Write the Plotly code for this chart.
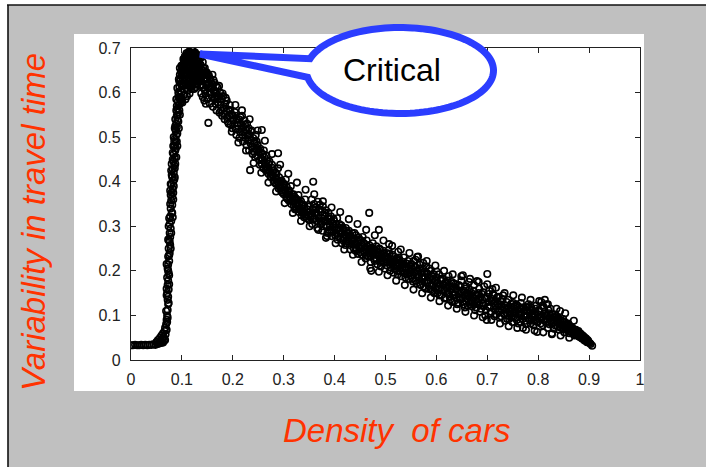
import numpy as np
import plotly.graph_objects as go

# ---------------------------------------------------------------------------
# Measurements: (density of cars, variability in travel time)
# ---------------------------------------------------------------------------
free_flow = [
    (0.000, 0.033), (0.004, 0.033), (0.008, 0.034), (0.012, 0.033), (0.016, 0.033),
    (0.020, 0.034), (0.024, 0.033), (0.028, 0.034), (0.032, 0.033), (0.036, 0.034),
    (0.040, 0.034), (0.044, 0.035), (0.048, 0.034), (0.052, 0.036), (0.055, 0.037),
    (0.058, 0.038), (0.061, 0.040), (0.063, 0.039), (0.065, 0.043), (0.067, 0.045),
    (0.050, 0.040), (0.053, 0.045), (0.055, 0.038), (0.057, 0.050), (0.059, 0.043),
    (0.060, 0.055), (0.062, 0.048), (0.063, 0.060), (0.064, 0.052), (0.066, 0.065),
    (0.067, 0.072), (0.068, 0.058), (0.069, 0.080), (0.070, 0.090), (0.070, 0.068),
    (0.071, 0.100), (0.071, 0.085), (0.072, 0.112), (0.072, 0.095), (0.073, 0.125),
]

rising = [
    (0.072, 0.135), (0.073, 0.142), (0.071, 0.150), (0.074, 0.158), (0.072, 0.168),
    (0.073, 0.178), (0.071, 0.185), (0.074, 0.195), (0.072, 0.205), (0.073, 0.214),
    (0.075, 0.222), (0.073, 0.232), (0.076, 0.240), (0.074, 0.250), (0.077, 0.258),
    (0.075, 0.268), (0.077, 0.276), (0.076, 0.285), (0.078, 0.295), (0.076, 0.305),
    (0.079, 0.312), (0.077, 0.322), (0.080, 0.330), (0.078, 0.340), (0.081, 0.348),
    (0.079, 0.358), (0.081, 0.366), (0.080, 0.376), (0.082, 0.384), (0.080, 0.394),
    (0.083, 0.402), (0.081, 0.410), (0.084, 0.420), (0.082, 0.428), (0.085, 0.436),
    (0.083, 0.446), (0.086, 0.454), (0.084, 0.462), (0.087, 0.470), (0.085, 0.480),
    (0.088, 0.488), (0.086, 0.496), (0.089, 0.504), (0.088, 0.514), (0.090, 0.522),
    (0.089, 0.530), (0.091, 0.538), (0.090, 0.548), (0.093, 0.556), (0.091, 0.564),
    (0.094, 0.572), (0.092, 0.580), (0.095, 0.588), (0.094, 0.596), (0.097, 0.604),
    (0.095, 0.612), (0.098, 0.620), (0.097, 0.630), (0.099, 0.638), (0.098, 0.648),
    (0.101, 0.656), (0.103, 0.664), (0.105, 0.672), (0.108, 0.678), (0.111, 0.684),
    (0.114, 0.686), (0.118, 0.690), (0.122, 0.688),
    (0.070, 0.160), (0.075, 0.190), (0.070, 0.215), (0.076, 0.265), (0.074, 0.300),
    (0.081, 0.330), (0.078, 0.370), (0.084, 0.390), (0.079, 0.425), (0.087, 0.440),
    (0.083, 0.480), (0.090, 0.490), (0.086, 0.520), (0.093, 0.535), (0.089, 0.560),
    (0.096, 0.575), (0.093, 0.600), (0.100, 0.615), (0.096, 0.640), (0.102, 0.650),
    (0.069, 0.110), (0.074, 0.128), (0.070, 0.145), (0.075, 0.170), (0.073, 0.200),
    (0.075, 0.235), (0.078, 0.250), (0.073, 0.270), (0.079, 0.285), (0.075, 0.318),
    (0.082, 0.320), (0.077, 0.350), (0.083, 0.360), (0.078, 0.395), (0.085, 0.405),
    (0.080, 0.440), (0.086, 0.430), (0.082, 0.465), (0.088, 0.475), (0.084, 0.500),
    (0.091, 0.508), (0.087, 0.540), (0.092, 0.550), (0.089, 0.585), (0.095, 0.560),
    (0.091, 0.610), (0.097, 0.590), (0.094, 0.630), (0.099, 0.660), (0.096, 0.655),
    (0.077, 0.380), (0.083, 0.375), (0.080, 0.415), (0.086, 0.410), (0.082, 0.450),
    (0.089, 0.455), (0.085, 0.490), (0.091, 0.480), (0.087, 0.525), (0.094, 0.520),
    (0.090, 0.570), (0.096, 0.550), (0.093, 0.590), (0.099, 0.580), (0.095, 0.625),
]

critical = [
    (0.100, 0.618), (0.102, 0.640), (0.104, 0.655), (0.105, 0.628), (0.106, 0.668),
    (0.108, 0.645), (0.109, 0.610), (0.110, 0.675), (0.111, 0.655), (0.112, 0.632),
    (0.113, 0.680), (0.114, 0.662), (0.115, 0.645), (0.116, 0.618), (0.117, 0.688),
    (0.118, 0.670), (0.119, 0.652), (0.120, 0.634), (0.121, 0.684), (0.122, 0.665),
    (0.123, 0.648), (0.124, 0.625), (0.125, 0.678), (0.126, 0.690), (0.127, 0.658),
    (0.128, 0.640), (0.129, 0.676), (0.130, 0.662), (0.132, 0.684), (0.134, 0.670),
    (0.112, 0.605), (0.115, 0.598), (0.124, 0.608), (0.127, 0.612), (0.130, 0.620),
    (0.133, 0.625), (0.136, 0.615), (0.105, 0.595), (0.107, 0.585), (0.110, 0.592),
    (0.099, 0.600), (0.097, 0.585), (0.101, 0.578),
    (0.100, 0.660), (0.103, 0.675), (0.104, 0.645), (0.106, 0.682), (0.107, 0.620),
    (0.108, 0.660), (0.109, 0.688), (0.111, 0.640), (0.112, 0.670), (0.113, 0.615),
    (0.114, 0.692), (0.116, 0.655), (0.117, 0.632), (0.118, 0.678), (0.119, 0.608),
    (0.120, 0.695), (0.122, 0.645), (0.123, 0.672), (0.124, 0.655), (0.126, 0.635),
    (0.127, 0.682), (0.128, 0.618), (0.129, 0.660), (0.131, 0.645), (0.132, 0.630),
    (0.133, 0.675), (0.135, 0.655), (0.136, 0.632), (0.137, 0.678), (0.139, 0.618),
    (0.140, 0.640), (0.142, 0.655), (0.143, 0.628), (0.145, 0.606), (0.147, 0.645),
    (0.149, 0.618), (0.151, 0.640), (0.153, 0.610), (0.155, 0.632), (0.157, 0.600),
    (0.159, 0.620), (0.162, 0.605), (0.164, 0.588), (0.167, 0.615), (0.170, 0.585),
    (0.138, 0.598), (0.141, 0.590), (0.144, 0.582), (0.147, 0.575), (0.121, 0.695),
    (0.101, 0.632), (0.103, 0.618), (0.104, 0.668), (0.106, 0.650), (0.107, 0.675),
    (0.108, 0.628), (0.110, 0.662), (0.111, 0.618), (0.112, 0.688), (0.113, 0.648),
    (0.114, 0.625), (0.115, 0.672), (0.116, 0.690), (0.117, 0.612), (0.118, 0.640),
    (0.119, 0.682), (0.120, 0.660), (0.121, 0.620), (0.122, 0.676), (0.123, 0.632),
    (0.124, 0.690), (0.125, 0.652), (0.126, 0.668), (0.127, 0.628), (0.128, 0.684),
    (0.129, 0.645), (0.130, 0.672), (0.131, 0.655), (0.133, 0.640), (0.134, 0.658),
    (0.136, 0.648), (0.137, 0.662), (0.139, 0.635), (0.141, 0.650), (0.143, 0.640),
    (0.145, 0.630), (0.148, 0.615), (0.150, 0.630), (0.153, 0.622), (0.156, 0.612),
]

congested = [
    (0.128, 0.660), (0.131, 0.672), (0.133, 0.655), (0.135, 0.640), (0.136, 0.662),
    (0.138, 0.628), (0.139, 0.650), (0.141, 0.668), (0.142, 0.612), (0.144, 0.640),
    (0.145, 0.655), (0.146, 0.598), (0.148, 0.630), (0.149, 0.645), (0.150, 0.585),
    (0.151, 0.620), (0.153, 0.638), (0.154, 0.600), (0.155, 0.575), (0.156, 0.628),
    (0.158, 0.612), (0.159, 0.590), (0.160, 0.640), (0.161, 0.568), (0.163, 0.605),
    (0.164, 0.622), (0.165, 0.585), (0.167, 0.598), (0.168, 0.560), (0.170, 0.612),
    (0.171, 0.578), (0.172, 0.592), (0.174, 0.555), (0.175, 0.600), (0.176, 0.572),
    (0.178, 0.585), (0.179, 0.548), (0.181, 0.592), (0.182, 0.565), (0.184, 0.540),
    (0.185, 0.575), (0.187, 0.558), (0.188, 0.582), (0.190, 0.535), (0.191, 0.562),
    (0.193, 0.548), (0.194, 0.572), (0.196, 0.528), (0.197, 0.552), (0.199, 0.520),
    (0.200, 0.548), (0.152, 0.532), (0.203, 0.530), (0.205, 0.548), (0.206, 0.518),
    (0.208, 0.540), (0.210, 0.525),
    (0.212, 0.540), (0.214, 0.512), (0.216, 0.530), (0.218, 0.548), (0.219, 0.505),
    (0.221, 0.522), (0.223, 0.538), (0.225, 0.498), (0.226, 0.515), (0.228, 0.530),
    (0.230, 0.492), (0.231, 0.520), (0.233, 0.505), (0.235, 0.486), (0.236, 0.512),
    (0.238, 0.478), (0.240, 0.498), (0.241, 0.468), (0.243, 0.490), (0.245, 0.505),
    (0.246, 0.472), (0.248, 0.458), (0.249, 0.482), (0.251, 0.466), (0.252, 0.448),
    (0.254, 0.474), (0.256, 0.452), (0.257, 0.440), (0.259, 0.462), (0.260, 0.430),
    (0.262, 0.455), (0.263, 0.442), (0.265, 0.425), (0.267, 0.448), (0.268, 0.432),
    (0.270, 0.418), (0.271, 0.440), (0.273, 0.422), (0.275, 0.410), (0.276, 0.432),
    (0.278, 0.415), (0.280, 0.402), (0.281, 0.425), (0.283, 0.408), (0.285, 0.395),
    (0.286, 0.418), (0.288, 0.400), (0.290, 0.385), (0.291, 0.410), (0.293, 0.392),
    (0.295, 0.380), (0.296, 0.402), (0.298, 0.388), (0.300, 0.372), (0.301, 0.395),
    (0.303, 0.378), (0.305, 0.365), (0.306, 0.388), (0.308, 0.372), (0.310, 0.358),
    (0.311, 0.380), (0.313, 0.364), (0.315, 0.350), (0.316, 0.372), (0.318, 0.358),
    (0.320, 0.345), (0.321, 0.366), (0.323, 0.350), (0.325, 0.338), (0.326, 0.360),
    (0.328, 0.345), (0.330, 0.332), (0.331, 0.352), (0.333, 0.338), (0.335, 0.325),
    (0.336, 0.348), (0.338, 0.334), (0.340, 0.320), (0.341, 0.340), (0.343, 0.326),
    (0.345, 0.318), (0.346, 0.338), (0.348, 0.325), (0.350, 0.314),
    (0.257, 0.516), (0.289, 0.464), (0.234, 0.426), (0.358, 0.400), (0.383, 0.274),
    (0.468, 0.330), (0.487, 0.292), (0.472, 0.200), (0.507, 0.260), (0.525, 0.243),
    (0.352, 0.345), (0.353, 0.322), (0.355, 0.360), (0.357, 0.338), (0.358, 0.315),
    (0.360, 0.350), (0.362, 0.330), (0.363, 0.342), (0.365, 0.312), (0.367, 0.355),
    (0.368, 0.325), (0.370, 0.338), (0.372, 0.305), (0.373, 0.332), (0.375, 0.318),
    (0.377, 0.345), (0.378, 0.300), (0.380, 0.325), (0.382, 0.312), (0.383, 0.336),
    (0.385, 0.298), (0.387, 0.318), (0.388, 0.330), (0.390, 0.292), (0.392, 0.310),
    (0.393, 0.322), (0.395, 0.288), (0.397, 0.306), (0.398, 0.316), (0.400, 0.296),
    (0.402, 0.285), (0.403, 0.305), (0.405, 0.318), (0.407, 0.278), (0.408, 0.298),
    (0.410, 0.290), (0.412, 0.272), (0.413, 0.302), (0.415, 0.285), (0.417, 0.268),
    (0.418, 0.292), (0.420, 0.280), (0.422, 0.296), (0.423, 0.262), (0.425, 0.285),
    (0.427, 0.274), (0.428, 0.290), (0.430, 0.258), (0.432, 0.278), (0.433, 0.268),
    (0.435, 0.284), (0.437, 0.252), (0.438, 0.272), (0.440, 0.262), (0.442, 0.280),
    (0.443, 0.248), (0.445, 0.266), (0.447, 0.275), (0.448, 0.255), (0.450, 0.242),
    (0.452, 0.268), (0.453, 0.258), (0.455, 0.276), (0.457, 0.245), (0.458, 0.262),
    (0.460, 0.252), (0.462, 0.235), (0.463, 0.268), (0.465, 0.250), (0.467, 0.240),
    (0.468, 0.258), (0.470, 0.232), (0.472, 0.252), (0.473, 0.244), (0.475, 0.262),
    (0.477, 0.228), (0.478, 0.246), (0.480, 0.238), (0.482, 0.255), (0.483, 0.225),
    (0.485, 0.242), (0.487, 0.232), (0.488, 0.250), (0.490, 0.220), (0.492, 0.238),
    (0.493, 0.228), (0.495, 0.245), (0.497, 0.218), (0.498, 0.234), (0.500, 0.225),
    (0.502, 0.240), (0.503, 0.212), (0.505, 0.230), (0.507, 0.222), (0.508, 0.238),
    (0.510, 0.208), (0.512, 0.226), (0.513, 0.216), (0.515, 0.232), (0.517, 0.205),
    (0.518, 0.222), (0.520, 0.212), (0.522, 0.228), (0.523, 0.200), (0.525, 0.218),
    (0.527, 0.210), (0.528, 0.224), (0.530, 0.198), (0.532, 0.214), (0.533, 0.206),
    (0.535, 0.220), (0.537, 0.195), (0.538, 0.210), (0.540, 0.202), (0.542, 0.216),
    (0.543, 0.192), (0.545, 0.206), (0.547, 0.198), (0.548, 0.212), (0.550, 0.190),
    (0.552, 0.205), (0.553, 0.182), (0.555, 0.222), (0.557, 0.195), (0.558, 0.210),
    (0.560, 0.178), (0.562, 0.231), (0.563, 0.200), (0.565, 0.188), (0.567, 0.214),
    (0.568, 0.170), (0.570, 0.196), (0.572, 0.205), (0.573, 0.182), (0.575, 0.165),
    (0.577, 0.198), (0.578, 0.186), (0.580, 0.210), (0.582, 0.172), (0.583, 0.192),
    (0.585, 0.160), (0.587, 0.185), (0.588, 0.200), (0.590, 0.168), (0.592, 0.180),
    (0.593, 0.155), (0.595, 0.192), (0.597, 0.175), (0.598, 0.162), (0.600, 0.185),
    (0.602, 0.150), (0.603, 0.172), (0.605, 0.192), (0.607, 0.160), (0.608, 0.178),
    (0.610, 0.145), (0.612, 0.168), (0.613, 0.182), (0.615, 0.155), (0.617, 0.172),
    (0.618, 0.140), (0.620, 0.162), (0.622, 0.178), (0.623, 0.148), (0.625, 0.166),
    (0.627, 0.135), (0.628, 0.158), (0.630, 0.175), (0.632, 0.145), (0.633, 0.160),
    (0.635, 0.132), (0.637, 0.152), (0.638, 0.170), (0.640, 0.140), (0.642, 0.156),
    (0.643, 0.128), (0.645, 0.148), (0.647, 0.165), (0.648, 0.136), (0.650, 0.152),
    (0.652, 0.190), (0.653, 0.125), (0.655, 0.145), (0.657, 0.160), (0.658, 0.132),
    (0.660, 0.150), (0.662, 0.122), (0.663, 0.142), (0.665, 0.158), (0.667, 0.130),
    (0.668, 0.146), (0.670, 0.120), (0.672, 0.140), (0.673, 0.155), (0.675, 0.128),
    (0.677, 0.145), (0.678, 0.118), (0.680, 0.177), (0.682, 0.136), (0.683, 0.150),
    (0.685, 0.125), (0.687, 0.142), (0.688, 0.115), (0.690, 0.135), (0.692, 0.152),
    (0.693, 0.122), (0.695, 0.140), (0.697, 0.112), (0.699, 0.090), (0.700, 0.193),
    (0.702, 0.130), (0.703, 0.148), (0.705, 0.118), (0.707, 0.138), (0.708, 0.108),
    (0.710, 0.159), (0.712, 0.128), (0.713, 0.145), (0.715, 0.112), (0.717, 0.132),
    (0.718, 0.102), (0.720, 0.126), (0.722, 0.142), (0.723, 0.108), (0.725, 0.125),
    (0.727, 0.098), (0.728, 0.120), (0.730, 0.136), (0.732, 0.104), (0.733, 0.118),
    (0.735, 0.088), (0.737, 0.114), (0.738, 0.130), (0.740, 0.100), (0.742, 0.115),
    (0.743, 0.092), (0.745, 0.110), (0.747, 0.126), (0.748, 0.096), (0.750, 0.112),
    (0.752, 0.120), (0.753, 0.098), (0.755, 0.108), (0.757, 0.125), (0.758, 0.090),
    (0.760, 0.112), (0.762, 0.102), (0.763, 0.118), (0.765, 0.085), (0.767, 0.105),
    (0.768, 0.115), (0.770, 0.072), (0.772, 0.098), (0.773, 0.110), (0.775, 0.088),
    (0.777, 0.118), (0.778, 0.100), (0.780, 0.119), (0.782, 0.092), (0.783, 0.106),
    (0.785, 0.082), (0.787, 0.100), (0.788, 0.112), (0.790, 0.088), (0.792, 0.104),
    (0.793, 0.096), (0.795, 0.115), (0.797, 0.086), (0.798, 0.063), (0.800, 0.102),
    (0.802, 0.092), (0.803, 0.110), (0.805, 0.082), (0.807, 0.098), (0.808, 0.122),
    (0.810, 0.090), (0.812, 0.104), (0.813, 0.135), (0.815, 0.085), (0.817, 0.100),
    (0.818, 0.092), (0.820, 0.112), (0.822, 0.080), (0.823, 0.096), (0.825, 0.088),
    (0.827, 0.060), (0.828, 0.102), (0.830, 0.084), (0.832, 0.095), (0.833, 0.078),
    (0.835, 0.098), (0.837, 0.088), (0.838, 0.075), (0.840, 0.092), (0.842, 0.082),
    (0.843, 0.110), (0.845, 0.072), (0.847, 0.088), (0.848, 0.080), (0.850, 0.070),
    (0.852, 0.085), (0.853, 0.078), (0.855, 0.068), (0.857, 0.080), (0.858, 0.074),
    (0.860, 0.065), (0.862, 0.076), (0.863, 0.070), (0.865, 0.062), (0.867, 0.072),
    (0.868, 0.066), (0.870, 0.058), (0.872, 0.068), (0.873, 0.062), (0.875, 0.056),
    (0.877, 0.064), (0.878, 0.058), (0.880, 0.053), (0.882, 0.060), (0.883, 0.055),
    (0.885, 0.050), (0.887, 0.055), (0.888, 0.050), (0.890, 0.046), (0.892, 0.050),
    (0.893, 0.045), (0.895, 0.042), (0.897, 0.045), (0.899, 0.040), (0.901, 0.038),
    (0.903, 0.036), (0.906, 0.032),
]

# second pass of congested readings, scattered across the band
congested_extra = [
    (0.162, 0.628), (0.166, 0.575), (0.169, 0.590), (0.173, 0.615), (0.177, 0.560),
    (0.180, 0.598), (0.183, 0.552), (0.186, 0.588), (0.189, 0.545), (0.192, 0.530),
    (0.195, 0.560), (0.198, 0.512), (0.201, 0.538), (0.204, 0.556), (0.207, 0.505),
    (0.209, 0.532), (0.213, 0.498), (0.215, 0.545), (0.217, 0.520), (0.220, 0.490),
    (0.222, 0.512), (0.224, 0.528), (0.227, 0.482), (0.229, 0.505), (0.232, 0.470),
    (0.234, 0.495), (0.237, 0.515), (0.239, 0.462), (0.242, 0.486), (0.244, 0.455),
    (0.247, 0.490), (0.250, 0.472), (0.253, 0.438), (0.255, 0.466), (0.258, 0.448),
    (0.261, 0.470), (0.264, 0.435), (0.266, 0.458), (0.269, 0.428), (0.272, 0.445),
    (0.274, 0.412), (0.277, 0.438), (0.279, 0.425), (0.282, 0.398), (0.284, 0.420),
    (0.287, 0.405), (0.289, 0.430), (0.292, 0.388), (0.294, 0.402), (0.297, 0.376),
    (0.299, 0.396), (0.302, 0.382), (0.304, 0.405), (0.307, 0.362), (0.309, 0.380),
    (0.312, 0.372), (0.314, 0.390), (0.317, 0.355), (0.319, 0.372), (0.322, 0.338),
    (0.324, 0.362), (0.327, 0.352), (0.329, 0.370), (0.332, 0.340), (0.334, 0.356),
    (0.337, 0.330), (0.339, 0.348), (0.342, 0.360), (0.344, 0.322), (0.347, 0.345),
    (0.349, 0.332), (0.354, 0.328), (0.356, 0.305), (0.359, 0.338), (0.361, 0.318),
    (0.364, 0.332), (0.366, 0.296), (0.369, 0.318), (0.371, 0.348), (0.374, 0.310),
    (0.376, 0.290), (0.379, 0.312), (0.381, 0.330), (0.384, 0.302), (0.386, 0.285),
    (0.389, 0.318), (0.391, 0.300), (0.394, 0.278), (0.396, 0.298), (0.399, 0.312),
    (0.401, 0.280), (0.404, 0.292), (0.406, 0.270), (0.409, 0.305), (0.411, 0.284),
    (0.414, 0.262), (0.416, 0.296), (0.419, 0.275), (0.421, 0.258), (0.424, 0.290),
    (0.426, 0.266), (0.429, 0.280), (0.431, 0.248), (0.434, 0.272), (0.436, 0.262),
    (0.439, 0.285), (0.441, 0.245), (0.444, 0.258), (0.446, 0.238), (0.449, 0.270),
    (0.451, 0.250), (0.454, 0.236), (0.456, 0.262), (0.459, 0.242), (0.461, 0.228),
    (0.464, 0.255), (0.466, 0.232), (0.469, 0.248), (0.471, 0.220), (0.474, 0.238),
    (0.476, 0.250), (0.479, 0.222), (0.481, 0.245), (0.484, 0.215), (0.486, 0.236),
    (0.489, 0.248), (0.491, 0.210), (0.494, 0.228), (0.496, 0.240), (0.499, 0.205),
    (0.501, 0.232), (0.504, 0.220), (0.506, 0.246), (0.509, 0.200), (0.511, 0.218),
    (0.514, 0.236), (0.516, 0.196), (0.519, 0.215), (0.521, 0.225), (0.524, 0.192),
    (0.526, 0.230), (0.529, 0.206), (0.531, 0.188), (0.534, 0.214), (0.536, 0.230),
    (0.539, 0.185), (0.541, 0.205), (0.544, 0.222), (0.546, 0.182), (0.549, 0.200),
    (0.551, 0.215), (0.554, 0.176), (0.556, 0.198), (0.559, 0.225), (0.561, 0.172),
    (0.564, 0.192), (0.566, 0.205), (0.569, 0.168), (0.571, 0.185), (0.574, 0.218),
    (0.576, 0.175), (0.579, 0.160), (0.581, 0.195), (0.584, 0.178), (0.586, 0.205),
    (0.589, 0.158), (0.591, 0.188), (0.594, 0.170), (0.596, 0.150), (0.599, 0.178),
    (0.601, 0.198), (0.604, 0.160), (0.606, 0.145), (0.609, 0.182), (0.611, 0.156),
    (0.614, 0.170), (0.616, 0.138), (0.619, 0.175), (0.621, 0.150), (0.624, 0.188),
    (0.626, 0.142), (0.629, 0.165), (0.631, 0.130), (0.634, 0.172), (0.636, 0.146),
    (0.639, 0.160), (0.641, 0.125), (0.644, 0.168), (0.646, 0.140), (0.649, 0.178),
    (0.651, 0.130), (0.654, 0.155), (0.656, 0.118), (0.659, 0.165), (0.661, 0.138),
    (0.664, 0.175), (0.666, 0.125), (0.669, 0.150), (0.671, 0.132), (0.674, 0.168),
    (0.676, 0.112), (0.679, 0.145), (0.681, 0.128), (0.684, 0.160), (0.686, 0.108),
    (0.689, 0.148), (0.691, 0.128), (0.694, 0.165), (0.696, 0.100), (0.698, 0.138),
    (0.701, 0.120), (0.704, 0.155), (0.706, 0.105), (0.709, 0.132), (0.711, 0.148),
    (0.714, 0.098), (0.716, 0.122), (0.719, 0.140), (0.721, 0.110), (0.724, 0.095),
    (0.726, 0.132), (0.729, 0.112), (0.731, 0.145), (0.734, 0.102), (0.736, 0.122),
    (0.739, 0.092), (0.741, 0.135), (0.744, 0.108), (0.746, 0.118), (0.749, 0.085),
    (0.751, 0.128), (0.754, 0.105), (0.756, 0.095), (0.759, 0.122), (0.761, 0.082),
    (0.764, 0.110), (0.766, 0.128), (0.769, 0.092), (0.771, 0.118), (0.774, 0.100),
    (0.776, 0.080), (0.779, 0.110), (0.781, 0.125), (0.784, 0.090), (0.786, 0.118),
    (0.789, 0.098), (0.791, 0.078), (0.794, 0.108), (0.796, 0.122), (0.799, 0.085),
    (0.801, 0.112), (0.804, 0.095), (0.806, 0.130), (0.809, 0.078), (0.811, 0.118),
    (0.814, 0.100), (0.816, 0.125), (0.819, 0.072), (0.821, 0.105), (0.824, 0.115),
    (0.826, 0.082), (0.829, 0.092), (0.831, 0.070), (0.834, 0.102), (0.836, 0.085),
    (0.839, 0.095), (0.841, 0.068), (0.844, 0.088), (0.846, 0.078), (0.849, 0.092),
    (0.851, 0.062), (0.854, 0.080), (0.856, 0.072), (0.859, 0.082), (0.861, 0.060),
    (0.864, 0.075), (0.866, 0.068), (0.869, 0.064), (0.871, 0.055), (0.874, 0.068),
    (0.876, 0.060), (0.879, 0.065), (0.881, 0.052), (0.884, 0.058), (0.886, 0.048),
    (0.889, 0.053), (0.891, 0.044), (0.894, 0.048), (0.896, 0.040), (0.898, 0.043),
]

# readings along the upper and lower fringe of the congested band
congested_fringe = [
    (0.205, 0.572), (0.211, 0.488), (0.218, 0.560), (0.226, 0.470), (0.233, 0.540),
    (0.241, 0.442), (0.249, 0.515), (0.256, 0.420), (0.263, 0.492), (0.270, 0.398),
    (0.277, 0.462), (0.285, 0.378), (0.293, 0.438), (0.302, 0.352), (0.309, 0.418),
    (0.318, 0.330), (0.326, 0.398), (0.334, 0.312), (0.343, 0.382), (0.351, 0.300),
    (0.360, 0.372), (0.368, 0.292), (0.377, 0.356), (0.385, 0.278), (0.394, 0.342),
    (0.402, 0.262), (0.411, 0.332), (0.419, 0.248), (0.428, 0.316), (0.436, 0.236),
    (0.445, 0.305), (0.453, 0.220), (0.462, 0.292), (0.470, 0.206), (0.479, 0.280),
    (0.487, 0.198), (0.496, 0.268), (0.504, 0.190), (0.513, 0.256), (0.521, 0.178),
    (0.530, 0.248), (0.538, 0.168), (0.547, 0.240), (0.555, 0.158), (0.564, 0.232),
    (0.572, 0.150), (0.581, 0.222), (0.589, 0.140), (0.598, 0.212), (0.606, 0.132),
    (0.615, 0.200), (0.623, 0.122), (0.632, 0.192), (0.640, 0.115), (0.649, 0.188),
    (0.657, 0.108), (0.666, 0.182), (0.674, 0.100), (0.683, 0.175), (0.691, 0.096),
    (0.700, 0.170), (0.708, 0.090), (0.717, 0.162), (0.725, 0.082), (0.734, 0.150),
    (0.742, 0.076), (0.751, 0.145), (0.759, 0.072), (0.768, 0.140), (0.776, 0.068),
    (0.785, 0.135), (0.793, 0.066), (0.802, 0.132), (0.810, 0.062), (0.819, 0.125),
    (0.827, 0.058), (0.836, 0.115), (0.844, 0.055), (0.853, 0.105), (0.861, 0.050),
    (0.870, 0.088),
]

x_ticks = [0, 0.1, 0.2, 0.3, 0.4, 0.5, 0.6, 0.7, 0.8, 0.9, 1]
x_tick_text = ["0", "0.1", "0.2", "0.3", "0.4", "0.5", "0.6", "0.7", "0.8", "0.9", "1"]
y_ticks = [0, 0.1, 0.2, 0.3, 0.4, 0.5, 0.6, 0.7]
y_tick_text = ["0", "0.1", "0.2", "0.3", "0.4", "0.5", "0.6", "0.7"]

points = free_flow + rising + critical + congested + congested_extra + congested_fringe
density = [p[0] for p in points]
variability = [p[1] for p in points]

# ---------------------------------------------------------------------------
# Page geometry (pixels) and helpers to place decorations in paper units
# ---------------------------------------------------------------------------
W, H = 706, 467
PL, PR, PT, PB = 131, 640, 48, 360


def pxx(x):
    return (x - PL) / (PR - PL)


def pxy(y):
    return (PB - y) / (PB - PT)


RED = "#ff3300"
BLUE = "#2b3dff"
FONT = "Liberation Sans, Arial, Helvetica, sans-serif"

fig = go.Figure()
fig.add_trace(go.Scatter(
    x=density, y=variability, mode="markers",
    marker=dict(symbol="circle-open", size=6.5, color="black",
                line=dict(width=1.6, color="black")),
    hoverinfo="x+y", showlegend=False,
))

axis_common = dict(
    ticks="inside", ticklen=5, tickwidth=1, tickcolor="#222",
    showline=True, linecolor="#222", linewidth=1.3, mirror="ticks",
    showgrid=False, zeroline=False,
    tickfont=dict(family=FONT, size=16, color="#222"),
)
fig.update_xaxes(range=[0, 1], tickvals=x_ticks, ticktext=x_tick_text,
                 ticklabelstandoff=5, **axis_common)
fig.update_yaxes(range=[0, 0.7], tickvals=y_ticks, ticktext=y_tick_text,
                 ticklabelstandoff=6, **axis_common)

shapes = [
    # white frame behind the plot
    dict(type="rect", xref="paper", yref="paper", layer="below",
         x0=pxx(74), x1=pxx(644), y0=pxy(391), y1=pxy(34),
         fillcolor="white", line=dict(width=0)),
    # white margins on top and left of the slide panel
    dict(type="rect", xref="paper", yref="paper", layer="below",
         x0=pxx(0), x1=pxx(W), y0=pxy(5), y1=pxy(0),
         fillcolor="white", line=dict(width=0)),
    dict(type="rect", xref="paper", yref="paper", layer="below",
         x0=pxx(0), x1=pxx(8), y0=pxy(H), y1=pxy(0),
         fillcolor="white", line=dict(width=0)),
    # panel border lines
    dict(type="line", xref="paper", yref="paper",
         x0=pxx(7), x1=pxx(W), y0=pxy(5), y1=pxy(5),
         line=dict(color="#111", width=1.6)),
    dict(type="line", xref="paper", yref="paper",
         x0=pxx(8), x1=pxx(8), y0=pxy(5), y1=pxy(H),
         line=dict(color="#111", width=1.6)),
]

# speech bubble pointing at the critical density peak
cx, cy, rx, ry = 400, 70.5, 93.5, 43
tip = (200, 54)
angles = np.radians(np.linspace(196, 531, 120))
bubble = [(cx + rx * np.cos(a), cy + ry * np.sin(a)) for a in angles]
path = "M " + " L ".join(f"{pxx(bx):.5f},{pxy(by):.5f}" for bx, by in bubble)
path += f" L {pxx(tip[0]):.5f},{pxy(tip[1]):.5f} Z"
shapes.append(dict(type="path", xref="paper", yref="paper", path=path,
                   fillcolor="white", line=dict(color=BLUE, width=7)))

annotations = [
    dict(text="Critical", x=pxx(392), y=pxy(70), xref="paper", yref="paper",
         showarrow=False, xanchor="center", yanchor="middle",
         font=dict(family=FONT, size=32, color="black")),
    dict(text="<i>Density\u00a0 of cars</i>", x=pxx(396), y=pxy(430),
         xref="paper", yref="paper", showarrow=False,
         xanchor="center", yanchor="middle",
         font=dict(family=FONT, size=33, color=RED)),
    dict(text="<i>Variability in travel time</i>", x=pxx(33), y=pxy(222),
         xref="paper", yref="paper", showarrow=False, textangle=-90,
         xanchor="center", yanchor="middle",
         font=dict(family=FONT, size=33, color=RED)),
]

fig.update_layout(
    width=W, height=H,
    margin=dict(l=PL, r=W - PR, t=PT, b=H - PB, pad=0),
    paper_bgcolor="#c0c0c0", plot_bgcolor="white",
    shapes=shapes, annotations=annotations,
    font=dict(family=FONT),
)

fig.write_html("out.html")
